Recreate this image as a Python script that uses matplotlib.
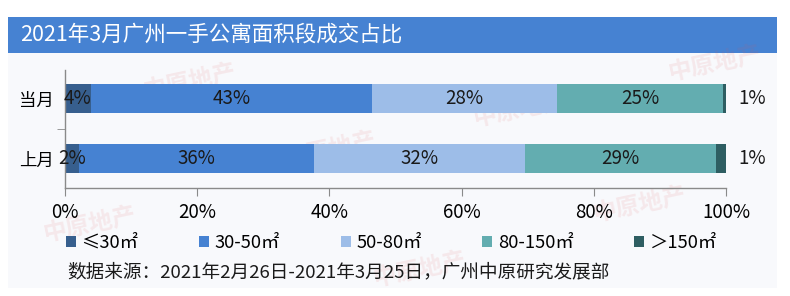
import matplotlib
matplotlib.use("Agg")
import matplotlib.pyplot as plt
from matplotlib.patches import Rectangle, Patch
import numpy as np

plt.rcParams['font.family'] = ['Noto Sans CJK SC', 'DejaVu Sans']

title = "2021年3月广州一手公寓面积段成交占比"
source = "数据来源：2021年2月26日-2021年3月25日，广州中原研究发展部"
categories = ["上月", "当月"]
segments = ["≤30㎡", "30-50㎡", "50-80㎡", "80-150㎡", "＞150㎡"]
# estimated shares (%)
shares_last = [2.1, 35.6, 31.9, 28.9, 1.5]
shares_this = [3.9, 42.5, 28.1, 25.0, 0.5]
labels_last = ["2%", "36%", "32%", "29%", "1%"]
labels_this = ["4%", "43%", "28%", "25%", "1%"]
xticks = [0, 20, 40, 60, 80, 100]
xticklabels = ["0%", "20%", "40%", "60%", "80%", "100%"]

colors = ["#375f8e", "#4682d2", "#9dbde8", "#63adb0", "#2e5e62"]

W, H = 790, 296
fig = plt.figure(figsize=(W / 100, H / 100), dpi=100)
fig.patch.set_facecolor("white")

# panel background
fig.patches.append(Rectangle((8 / W, (H - 288) / H), (777 - 8) / W, (288 - 52) / H,
                             transform=fig.transFigure, facecolor="#f8f9fc",
                             edgecolor="none", zorder=-2))
# title banner
fig.patches.append(Rectangle((8 / W, (H - 53) / H), (777 - 8) / W, (53 - 17) / H,
                             transform=fig.transFigure, facecolor="#4682d2",
                             edgecolor="none", zorder=-1))
fig.text(20 / W, (H - 35) / H, title, color="white", fontsize=15.5,
         va="center", ha="left")

# faint watermarks
wm_pos = [(190, 82), (330, 150), (520, 110), (715, 64), (90, 225), (420, 270), (640, 205)]
for (wx, wy) in wm_pos:
    fig.text(wx / W, (H - wy) / H, "中原地产", color="#e05050", alpha=0.10,
             fontsize=17, fontweight="bold", rotation=12, ha="center", va="center",
             zorder=-0.5)

ax = fig.add_axes([65 / W, (H - 188) / H, (726 - 65) / W, (188 - 70) / H])
ax.set_facecolor("none")
ax.set_zorder(3)

ypos = [0, 1]
data = [shares_last, shares_this]
labs = [labels_last, labels_this]
bh = 0.48
for yi, vals, lb in zip(ypos, data, labs):
    left = 0
    for j, v in enumerate(vals):
        ax.barh(yi, v, left=left, height=bh, color=colors[j], edgecolor="none")
        if j < len(vals) - 1:
            ax.text(left + v / 2, yi, lb[j], ha="center", va="center",
                    fontsize=13.5, color="#1a1a1a")
        else:
            ax.text(left + v + 4.0, yi, lb[j], ha="center", va="center",
                    fontsize=13.5, color="#1a1a1a")
        left += v

ax.set_xlim(0, 100)
ax.set_ylim(-0.49, 1.475)
ax.set_xticks(xticks)
ax.set_xticklabels(xticklabels, fontsize=13.5)
ax.set_yticks(ypos)
ax.set_yticklabels(categories, fontsize=12.5)
ax.set_yticks([0.5], minor=True)
ax.tick_params(axis="y", which="major", length=0, pad=8)
ax.tick_params(axis="y", which="minor", length=6, color="#8a8a8a", direction="out")
ax.tick_params(axis="x", length=6, color="#8a8a8a", direction="out", pad=4)
for s in ["top", "right"]:
    ax.spines[s].set_visible(False)
for s in ["left", "bottom"]:
    ax.spines[s].set_color("#8a8a8a")
    ax.spines[s].set_linewidth(1)

handles = [Patch(facecolor=c, edgecolor="none") for c in colors]
fig.legend(handles, segments, loc="center left", ncol=5,
           bbox_to_anchor=(66 / W, (H - 243) / H), frameon=False,
           fontsize=13.2, handlelength=0.55, handleheight=0.55, handletextpad=0.3,
           columnspacing=3.3, borderaxespad=0, borderpad=0)

fig.text(67 / W, (H - 272) / H, source, fontsize=13.4, va="center", ha="left",
         color="#1a1a1a")

fig.savefig("out.png", dpi=100, facecolor="white")
